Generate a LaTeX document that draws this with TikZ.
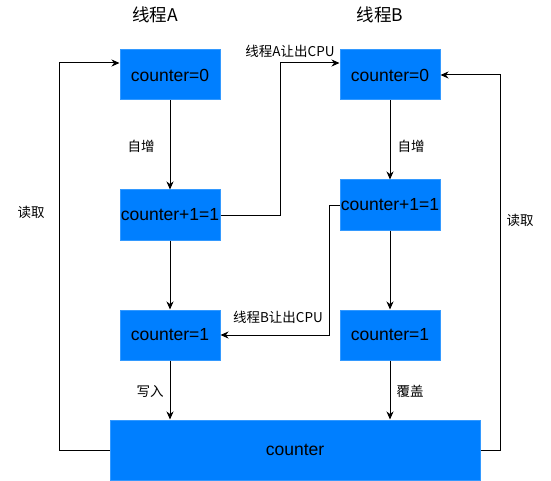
\documentclass[tikz,border=0pt]{standalone}
\usepackage{fontspec}
\setmainfont{Liberation Sans}
\newfontfamily\cjk{Noto Sans CJK SC}
\usetikzlibrary{arrows.meta}
\definecolor{boxfill}{HTML}{007FFF}
\definecolor{boxline}{HTML}{3399FF}
\begin{document}
\begin{tikzpicture}
  [x=1pt,y=-1pt,line width=1pt,
   box/.style={rectangle,fill=boxfill,draw=boxline,minimum width=100pt,minimum height=50pt,
     inner sep=0pt,font=\fontsize{17.5}{20}\selectfont},
   lbl/.style={font=\cjk\fontsize{13.5}{16}\selectfont,inner sep=1pt},
   title/.style={font=\cjk\fontsize{17.5}{20}\selectfont},
   >={Stealth[length=8pt,width=7pt,inset=2.5pt]}]
  \useasboundingbox (0,0) rectangle (551,481);
  \node[title] (ta) at (155,15) {线程A};
  \node[title] (tb) at (380,15) {线程B};

  \node[box] (a0) at (170,75) {counter=0};
  \node[box] (a1) at (170,215) {counter+1=1};
  \node[box] (a2) at (170,335) {counter=1};
  \node[box] (b0) at (390,75) {counter=0};
  \node[box] (b1) at (390,205) {counter+1=1};
  \node[box] (b2) at (390,335) {counter=1};
  \node[box,minimum width=370pt,minimum height=60pt] (c) at (295,450) {counter};

  \foreach \from/\to in {a0/a1,a1/a2,b0/b1,b1/b2}
    \draw[->] (\from) -- (\to);
  \foreach \from in {a2,b2}
    \draw[->] (\from) -- (\from |- c.north);

  % switching between threads
  \draw[->] (a1.east) -- ++(60,0) |- ([yshift=12pt]b0.west);
  \draw[->] (b1.west) -- ++(-10,0) |- (a2.east);

  % reading counter back
  \draw[->] (c.west) -- ++(-50,0) |- ([yshift=12pt]a0.west);
  \draw[->] (c.east) -- ++(20,0) |- (b0.east);

  \node[lbl] (l1) at (141,146) {自增};
  \node[lbl] (l2) at (411,146) {自增};
  \node[lbl] (l3) at (290,51) {线程A让出CPU};
  \node[lbl] (l4) at (278,317) {线程B让出CPU};
  \node[lbl] (l5) at (150,391) {写入};
  \node[lbl] (l6) at (410,391) {覆盖};
  \node[lbl] (l7) at (31,212) {读取};
  \node[lbl] (l8) at (520,220) {读取};
\end{tikzpicture}
\end{document}
